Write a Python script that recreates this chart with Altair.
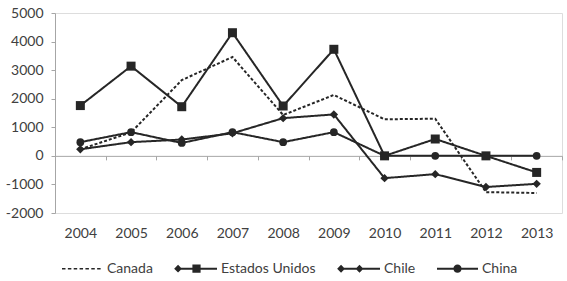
import altair as alt
import pandas as pd

years = ["2004", "2005", "2006", "2007", "2008", "2009", "2010", "2011", "2012", "2013"]
series_names = ["Canada", "Estados Unidos", "Chile", "China"]
canada = [230, 820, 2650, 3460, 1430, 2130, 1280, 1300, -1270, -1300]
estados_unidos = [1760, 3140, 1720, 4310, 1745, 3730, 0, 590, 0, -580]
chile = [230, 480, 570, 790, 1320, 1450, -780, -640, -1090, -980]
china = [480, 830, 450, 830, 480, 830, 0, 0, 0, 0]

values = {"Canada": canada, "Estados Unidos": estados_unidos, "Chile": chile, "China": china}
rows = []
for s in series_names:
    for y, v in zip(years, values[s]):
        rows.append({"year": y, "series": s, "value": v})
df = pd.DataFrame(rows)

INK = "#262626"
AXIS = "#a6a6a6"
TEXT = "#404040"
FONT = "Lato"

x_enc = alt.X(
    "year:O",
    sort=years,
    scale=alt.Scale(paddingInner=0, paddingOuter=0),
    axis=alt.Axis(
        title=None,
        orient="bottom",
        offset=-57.14,
        domainColor=AXIS,
        domainWidth=1,
        tickColor=AXIS,
        tickSize=4,
        tickBand="extent",
        labelAngle=0,
        labelPadding=67,
        labelFont=FONT,
        labelFontSize=14,
        labelColor=TEXT,
        grid=False,
    ),
)
y_enc = alt.Y(
    "value:Q",
    scale=alt.Scale(domain=[-2000, 5000], nice=False, zero=False),
    axis=alt.Axis(
        title=None,
        values=[-2000, -1000, 0, 1000, 2000, 3000, 4000, 5000],
        domainColor=AXIS,
        tickColor=AXIS,
        tickSize=4,
        labelPadding=8,
        labelFont=FONT,
        labelFontSize=14,
        labelColor=TEXT,
        labelOverlap=False,
        labelFlush=False,
        labelExpr="'' + datum.value",
        grid=False,
    ),
)


# legend glyphs (all filled shapes, unit = half symbol width)
def _rect(x0, x1, h):
    return f"M{x0:.3f},{-h:.3f}H{x1:.3f}V{h:.3f}H{x0:.3f}Z"


def _diamond(cx, r):
    return f"M{cx:.3f},{-r:.3f}L{cx + r:.3f},0L{cx:.3f},{r:.3f}L{cx - r:.3f},0Z"


LINE_H = 0.05
dash_path = "".join(_rect(-1 + i * (2 / 7), -1 + i * (2 / 7) + 0.17, 0.037) for i in range(7))
legend_paths = [
    dash_path,
    _rect(-1, 1, LINE_H) + _diamond(-0.9, 0.19) + _rect(-0.2, 0.2, 0.2),
    _rect(-1, 1, LINE_H) + _diamond(-0.9, 0.19) + _diamond(0.0, 0.19),
    _rect(-1, 1, LINE_H) + "M0.2,0A0.2,0.2 0 1 1 -0.2,0A0.2,0.2 0 1 1 0.2,0Z",
]

legend = alt.Legend(
    title=None,
    orient="none",
    direction="horizontal",
    legendX=6,
    legendY=234,
    padding=0,
    columnPadding=18,
    labelOffset=3,
    labelFont=FONT,
    labelFontSize=14,
    labelColor=TEXT,
    symbolSize=1681,
    symbolFillColor=INK,
    symbolOpacity=1,
)

lines = alt.Chart(df).mark_line(strokeWidth=2, color=INK).encode(
    x=x_enc,
    y=y_enc,
    detail="series:N",
    strokeDash=alt.StrokeDash(
        "series:N",
        scale=alt.Scale(domain=series_names, range=[[3, 2], [1, 0], [1, 0], [1, 0]]),
        legend=None,
    ),
    order=alt.Order("year:O"),
)

points = alt.Chart(df).transform_filter(alt.datum.series != "Canada").mark_point(
    filled=True, opacity=1, color=INK
).encode(
    x=x_enc,
    y=y_enc,
    shape=alt.Shape(
        "series:N",
        scale=alt.Scale(domain=["Estados Unidos", "Chile", "China"], range=["square", "diamond", "circle"]),
        legend=None,
    ),
    size=alt.Size(
        "series:N",
        scale=alt.Scale(domain=["Estados Unidos", "Chile", "China"], range=[81, 60, 55]),
        legend=None,
    ),
)

legend_layer = alt.Chart(df).transform_filter("false").mark_point(
    filled=True, color=INK, opacity=1, size=1681
).encode(
    shape=alt.Shape("series:N", scale=alt.Scale(domain=series_names, range=legend_paths), legend=legend),
)

chart = alt.layer(lines, points, legend_layer).resolve_scale(
    shape="independent", size="independent"
).properties(
    width=507,
    height=200,
    autosize=alt.AutoSizeParams(type="none"),
    padding={"left": 55, "top": 13, "right": 5, "bottom": 68},
).configure_view(stroke=None).configure(background="white")

chart.save("out.html", embed_options={"renderer": "svg", "actions": False})
